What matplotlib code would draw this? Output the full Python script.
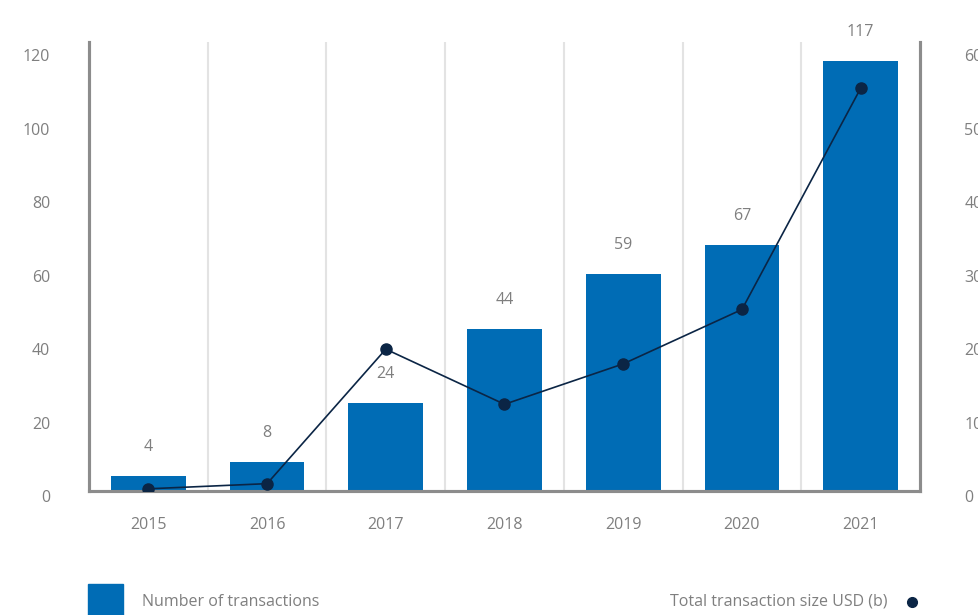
import matplotlib
matplotlib.use("Agg")
import matplotlib.pyplot as plt
import matplotlib.transforms as mtransforms
from matplotlib.patches import Rectangle
from matplotlib.lines import Line2D

years = ["2015", "2016", "2017", "2018", "2019", "2020", "2021"]
num_transactions = [4, 8, 24, 44, 59, 67, 117]
total_size_usd_b = [0.3, 1.0, 19.3, 11.8, 17.3, 24.7, 54.8]
left_ticks = [0, 20, 40, 60, 80, 100, 120]
right_ticks = [0, 10, 20, 30, 40, 50, 60]
bar_label = "Number of transactions"
line_label = "Total transaction size USD (b)"

BAR_BLUE = "#006CB5"
NAVY = "#0B2545"
GREY_TXT = "#7F7F7F"
SPINE = "#8C8C8C"
GRID = "#E3E3E3"
FS = 11.5

plt.rcParams["font.family"] = ["Open Sans", "DejaVu Sans"]

fig = plt.figure(figsize=(9.79, 6.15), dpi=100)
ax = fig.add_axes([89 / 979, 1 - 491 / 615, (920 - 89) / 979, (491 - 42) / 615])
ax2 = ax.twinx()

x = list(range(len(years)))
ax.bar(x, num_transactions, width=0.63, color=BAR_BLUE, zorder=2)
for xi, v in zip(x, num_transactions):
    ax.annotate(str(v), (xi, v), xytext=(0, 15), textcoords="offset points",
                ha="center", va="bottom", fontsize=FS, color=GREY_TXT)

ax2.plot(x, total_size_usd_b, color=NAVY, lw=1.2, marker="o", ms=8,
         markerfacecolor=NAVY, markeredgecolor=NAVY, zorder=3)

ax.set_xlim(-0.5, 6.5)
ax.set_ylim(0, 122.2)
ax2.set_ylim(0, 61.1)

# vertical separators between categories
for b in range(1, len(years)):
    ax.axvline(b - 0.5, color=GRID, lw=1.5, zorder=0)

ax.set_xticks(x)
ax.set_xticklabels(years)
ax.set_yticks(left_ticks)
ax2.set_yticks(right_ticks)

ax.tick_params(axis="x", length=0, pad=19, labelsize=FS, labelcolor=GREY_TXT)
ax.tick_params(axis="y", length=0, pad=28, labelsize=FS, labelcolor=GREY_TXT)
ax2.tick_params(axis="y", length=0, pad=32, labelsize=FS, labelcolor=GREY_TXT)

shift = mtransforms.ScaledTranslation(0, -5 / 100, fig.dpi_scale_trans)
for lab in ax.get_yticklabels() + ax2.get_yticklabels():
    lab.set_transform(lab.get_transform() + shift)

for a in (ax, ax2):
    a.spines["top"].set_visible(False)
    for s in ("left", "right", "bottom"):
        a.spines[s].set_color(SPINE)
        a.spines[s].set_linewidth(2.2)
ax2.set_zorder(ax.get_zorder() + 1)
ax2.patch.set_visible(False)

# legend row along the bottom edge
fig.patches.append(Rectangle((88 / 979, 0), 35 / 979, 31 / 615,
                             transform=fig.transFigure, color=BAR_BLUE))
fig.text(142 / 979, 1 - 602 / 615, bar_label, fontsize=FS, color=GREY_TXT,
         ha="left", va="center")
fig.text(888 / 979, 1 - 602 / 615, line_label, fontsize=FS, color=GREY_TXT,
         ha="right", va="center")
fig.lines.append(Line2D([912 / 979], [1 - 602 / 615], marker="o", ms=7,
                        color=NAVY, transform=fig.transFigure))

fig.savefig("out.png", dpi=100)
